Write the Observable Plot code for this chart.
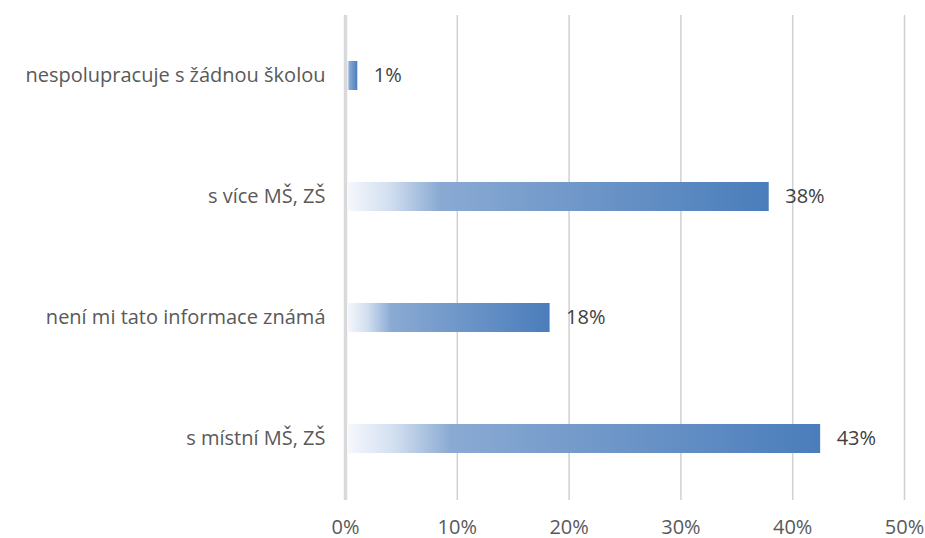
<!DOCTYPE html>
<html>
<head>
<meta charset="utf-8">
<script src="https://cdn.jsdelivr.net/npm/d3@7"></script>
<script src="https://cdn.jsdelivr.net/npm/@observablehq/plot@0.6"></script>
<style>
  body { margin: 0; background: #fff; }
  svg { font-family: "Open Sans", Lato, sans-serif; overflow: visible; }
</style>
</head>
<body>
<div id="chart"></div>
<script>
const categories = ["nespolupracuje s žádnou školou", "s více MŠ, ZŠ", "není mi tato informace známá", "s místní MŠ, ZŠ"];
const values = [0.011, 0.379, 0.183, 0.425];
const valueLabels = ["1%", "38%", "18%", "43%"];
const xTicks = [0, 0.1, 0.2, 0.3, 0.4, 0.5];

const data = categories.map((c, i) => ({cat: c, v: values[i], label: valueLabels[i]}));

function gradientDefs() {
  const ns = "http://www.w3.org/2000/svg";
  const defs = document.createElementNS(ns, "defs");
  const lg = document.createElementNS(ns, "linearGradient");
  lg.setAttribute("id", "barGrad");
  lg.setAttribute("x1", "0"); lg.setAttribute("x2", "1");
  lg.setAttribute("y1", "0"); lg.setAttribute("y2", "0");
  [["0", "#f6f8fc"], ["0.1", "#d2dff0"], ["0.22", "#8aaad3"], ["1", "#4a7dbb"]].forEach(([o, c]) => {
    const s = document.createElementNS(ns, "stop");
    s.setAttribute("offset", o);
    s.setAttribute("stop-color", c);
    lg.appendChild(s);
  });
  defs.appendChild(lg);
  return defs;
}

const chart = Plot.plot({
  width: 925,
  height: 538,
  marginLeft: 345,
  marginRight: 21,
  marginTop: 15,
  marginBottom: 38,
  style: {fontSize: "20px", color: "#595959", background: "#fff", overflow: "visible"},
  x: {domain: [0, 0.5], ticks: xTicks, tickFormat: d => Math.round(d * 100) + "%"},
  y: {domain: categories, paddingInner: 0.76, paddingOuter: 0.38, label: null},
  marks: [
    gradientDefs,
    Plot.ruleX(xTicks.slice(1), {stroke: "#d0d0d0", strokeWidth: 1.5}),
    Plot.ruleX([0], {stroke: "#d9d9d9", strokeWidth: 3.5}),
    Plot.barX(data, {x: "v", y: "cat", fill: "url(#barGrad)", insetLeft: 2}),
    Plot.text(data, {x: "v", y: "cat", text: "label", textAnchor: "start", dx: 16, fill: "#404040", fontSize: 20}),
    Plot.axisX({ticks: xTicks, tickFormat: d => Math.round(d * 100) + "%", tickSize: 0, tickPadding: 19, label: null, fontSize: 20, fill: "#595959"}),
    Plot.axisY({tickSize: 0, tickPadding: 20, label: null, fontSize: 20, fill: "#595959"})
  ]
});
document.getElementById("chart").appendChild(chart);
</script>
</body>
</html>
